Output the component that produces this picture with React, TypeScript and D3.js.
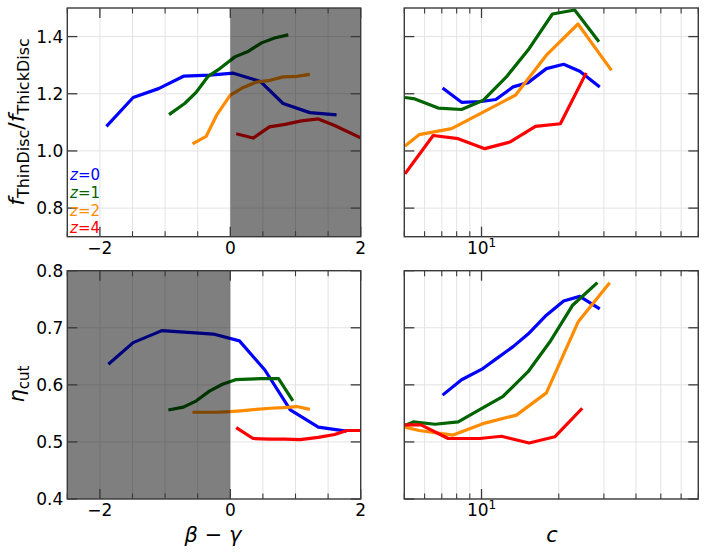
import * as d3 from "d3";

// ---- data ----
const zLabels = ["z=0", "z=1", "z=2", "z=4"];
const zColors = ["#0000ff", "#006400", "#ff8c00", "#ff0000"];

// top-left: f_thin/f_thick vs beta-gamma
const bgTop0 = [-1.9, -1.49, -1.1, -0.71, -0.32, 0.05, 0.46, 0.81, 1.22, 1.63];
const fTop0 = [1.086, 1.187, 1.218, 1.262, 1.265, 1.272, 1.243, 1.166, 1.134, 1.126];
const bgTop1 = [-0.94, -0.7, -0.52, -0.34, -0.16, 0.07, 0.28, 0.48, 0.69, 0.89];
const fTop1 = [1.127, 1.166, 1.206, 1.261, 1.288, 1.329, 1.349, 1.378, 1.396, 1.406];
const bgTop2 = [-0.58, -0.37, -0.21, 0.0, 0.2, 0.4, 0.61, 0.81, 1.02, 1.22];
const fTop2 = [1.025, 1.051, 1.125, 1.195, 1.222, 1.241, 1.247, 1.259, 1.261, 1.268];
const bgTop4 = [0.09, 0.35, 0.6, 0.84, 1.09, 1.35, 1.6, 2.1];
const fTop4 = [1.06, 1.045, 1.084, 1.093, 1.105, 1.112, 1.089, 1.035];

// top-right: f_thin/f_thick vs c
const cTop0 = [7.05, 8.36, 10.0, 11.37, 13.28, 15.19, 17.9, 20.9, 24.15, 28.9];
const fcTop0 = [1.22, 1.17, 1.173, 1.18, 1.224, 1.239, 1.288, 1.303, 1.279, 1.224];
const cTop1 = [5.03, 5.5, 6.78, 8.36, 10.15, 12.5, 15.19, 18.9, 23.08, 28.7];
const fcTop1 = [1.187, 1.182, 1.15, 1.145, 1.177, 1.259, 1.353, 1.479, 1.493, 1.382];
const cTop2 = [5.03, 5.71, 7.64, 10.15, 13.56, 17.9, 23.78, 32.1];
const fcTop2 = [1.017, 1.057, 1.078, 1.136, 1.195, 1.335, 1.444, 1.282];
const cTop4 = [5.03, 6.48, 8.11, 10.3, 12.89, 16.23, 20.3, 25.6];
const fcTop4 = [0.92, 1.054, 1.043, 1.008, 1.031, 1.086, 1.095, 1.273];

// bottom-left: eta_cut vs beta-gamma
const bgBot0 = [-1.87, -1.49, -1.05, -0.65, -0.26, 0.14, 0.53, 0.92, 1.35, 1.78];
const eBot0 = [0.636, 0.674, 0.695, 0.692, 0.689, 0.677, 0.626, 0.556, 0.526, 0.519];
const bgBot1 = [-0.95, -0.72, -0.52, -0.32, -0.12, 0.08, 0.28, 0.48, 0.74, 0.96];
const eBot1 = [0.556, 0.561, 0.572, 0.589, 0.601, 0.609, 0.61, 0.611, 0.611, 0.572];
const bgBot2 = [-0.58, -0.37, -0.21, 0.0, 0.2, 0.4, 0.61, 0.81, 1.02, 1.22];
const eBot2 = [0.552, 0.552, 0.552, 0.553, 0.555, 0.557, 0.559, 0.56, 0.562, 0.557];
const bgBot4 = [0.09, 0.35, 0.6, 0.84, 1.07, 1.35, 1.6, 1.79, 2.1];
const eBot4 = [0.525, 0.506, 0.505, 0.505, 0.504, 0.508, 0.513, 0.52, 0.52];

// bottom-right: eta_cut vs c
const cBot0 = [7.05, 8.36, 10.0, 11.37, 13.28, 15.19, 17.9, 20.9, 24.15, 28.9];
const ecBot0 = [0.582, 0.609, 0.627, 0.645, 0.667, 0.689, 0.722, 0.747, 0.755, 0.733];
const cBot1 = [5.03, 5.42, 6.58, 8.11, 10.15, 12.14, 15.19, 18.45, 22.7, 28.3];
const ecBot1 = [0.529, 0.535, 0.531, 0.535, 0.56, 0.58, 0.623, 0.675, 0.74, 0.779];
const cBot2 = [5.03, 5.71, 7.75, 10.3, 13.68, 17.9, 23.78, 31.6];
const ecBot2 = [0.526, 0.52, 0.512, 0.533, 0.547, 0.586, 0.71, 0.779];
const cBot4 = [5.03, 5.81, 7.41, 9.85, 11.96, 15.33, 19.3, 24.7];
const ecBot4 = [0.53, 0.53, 0.506, 0.506, 0.51, 0.498, 0.509, 0.559];

const bgTicks = [-2, 0, 2];
const fTicks = [0.8, 1.0, 1.2, 1.4];
const etaTicks = [0.4, 0.5, 0.6, 0.7, 0.8];

// ---- layout ----
const W = 706;
const H = 557;
const colL = [67.3, 360.7];
const colR = [404.3, 698.3];
const rowT = [8, 236.7];
const rowB = [270.7, 499];
const FONT = "DejaVu Sans, Liberation Sans, sans-serif";

type Series = { xs: number[]; ys: number[] };

function toPts(s: Series) {
  return s.xs.map((x, i) => [x, s.ys[i]] as [number, number]);
}

function Panel(props: {
  id: string;
  x: any;
  y: any;
  series: Series[];
  log?: boolean;
  shade?: [number, number];
  yLabels: boolean;
  yTicks: number[];
}) {
  const { x, y, series, log, shade, yLabels, yTicks } = props;
  const [x0, x1] = x.range();
  const [y1, y0] = y.range();
  const line = d3
    .line<[number, number]>()
    .x((d) => x(d[0]))
    .y((d) => y(d[1]));

  let majorX: number[] = [];
  let minorX: number[] = [];
  if (log) {
    majorX = [10];
    minorX = [5, 6, 7, 8, 9, 20, 30, 40, 50, 60, 70].filter(
      (v) => v >= x.domain()[0] && v <= x.domain()[1]
    );
  } else {
    majorX = bgTicks;
    minorX = d3.range(-2.5, 2.01, 0.5).filter((v) => Math.abs(v % 2) > 1e-6);
  }
  const gridX = [...majorX, ...minorX];
  const gridC = "#e3e3e3";
  const spine = "#3a3a3a";

  return (
    <g>
      <defs>
        <clipPath id={props.id}>
          <rect x={x0} y={y0} width={x1 - x0} height={y1 - y0} />
        </clipPath>
      </defs>
      <g clipPath={`url(#${props.id})`}>
        {gridX.map((v, i) => (
          <line key={"gx" + i} x1={x(v)} x2={x(v)} y1={y0} y2={y1} stroke={gridC} strokeWidth={1} />
        ))}
        {yTicks.map((v, i) => (
          <line key={"gy" + i} x1={x0} x2={x1} y1={y(v)} y2={y(v)} stroke={gridC} strokeWidth={1} />
        ))}
        {series.map((s, i) => (
          <path
            key={"s" + i}
            d={line(toPts(s)) || ""}
            fill="none"
            stroke={zColors[i]}
            strokeWidth={3.2}
            strokeLinejoin="round"
          />
        ))}
        {shade && (
          <rect
            x={x(shade[0])}
            y={y0}
            width={x(shade[1]) - x(shade[0])}
            height={y1 - y0}
            fill="#000"
            fillOpacity={0.5}
          />
        )}
      </g>
      {/* ticks, inward on all sides */}
      {majorX.map((v, i) => (
        <g key={"mx" + i}>
          <line x1={x(v)} x2={x(v)} y1={y1} y2={y1 - 10} stroke={spine} strokeWidth={1.3} />
          <line x1={x(v)} x2={x(v)} y1={y0} y2={y0 + 10} stroke={spine} strokeWidth={1.3} />
        </g>
      ))}
      {minorX.map((v, i) => (
        <g key={"nx" + i}>
          <line x1={x(v)} x2={x(v)} y1={y1} y2={y1 - 5.5} stroke={spine} strokeWidth={1.1} />
          <line x1={x(v)} x2={x(v)} y1={y0} y2={y0 + 5.5} stroke={spine} strokeWidth={1.1} />
        </g>
      ))}
      {yTicks.map((v, i) => (
        <g key={"my" + i}>
          <line x1={x0} x2={x0 + 10} y1={y(v)} y2={y(v)} stroke={spine} strokeWidth={1.3} />
          <line x1={x1} x2={x1 - 10} y1={y(v)} y2={y(v)} stroke={spine} strokeWidth={1.3} />
        </g>
      ))}
      <rect x={x0} y={y0} width={x1 - x0} height={y1 - y0} fill="none" stroke={spine} strokeWidth={1.4} />
      {/* tick labels */}
      {log
        ? majorX.map((v, i) => (
            <text key={"lx" + i} x={x(v)} y={y1 + 17} textAnchor="middle" fontSize={17} fontFamily={FONT}>
              10
              <tspan dy={-7} fontSize={12}>
                1
              </tspan>
            </text>
          ))
        : majorX.map((v, i) => (
            <text key={"lx" + i} x={x(v)} y={y1 + 17} textAnchor="middle" fontSize={17} fontFamily={FONT}>
              {v < 0 ? "\u2212" + Math.abs(v) : String(v)}
            </text>
          ))}
      {yLabels &&
        yTicks.map((v, i) => (
          <text
            key={"ly" + i}
            x={x0 - 4}
            y={y(v)}
            dy="0.36em"
            textAnchor="end"
            fontSize={17}
            fontFamily={FONT}
          >
            {v.toFixed(1)}
          </text>
        ))}
    </g>
  );
}

export default function App() {
  const xBgL = d3.scaleLinear().domain([-2.5, 2]).range(colL);
  const xCR = d3.scaleLog().domain([5, 70]).range(colR);
  const yF = d3.scaleLinear().domain([0.7, 1.5]).range([rowT[1], rowT[0]]);
  const yE = d3.scaleLinear().domain([0.4, 0.8]).range([rowB[1], rowB[0]]);

  const tl: Series[] = [
    { xs: bgTop0, ys: fTop0 },
    { xs: bgTop1, ys: fTop1 },
    { xs: bgTop2, ys: fTop2 },
    { xs: bgTop4, ys: fTop4 },
  ];
  const tr: Series[] = [
    { xs: cTop0, ys: fcTop0 },
    { xs: cTop1, ys: fcTop1 },
    { xs: cTop2, ys: fcTop2 },
    { xs: cTop4, ys: fcTop4 },
  ];
  const bl: Series[] = [
    { xs: bgBot0, ys: eBot0 },
    { xs: bgBot1, ys: eBot1 },
    { xs: bgBot2, ys: eBot2 },
    { xs: bgBot4, ys: eBot4 },
  ];
  const br: Series[] = [
    { xs: cBot0, ys: ecBot0 },
    { xs: cBot1, ys: ecBot1 },
    { xs: cBot2, ys: ecBot2 },
    { xs: cBot4, ys: ecBot4 },
  ];

  return (
    <svg
      width={W}
      height={H}
      style={{ position: "absolute", left: 0, top: 0, background: "#fff" }}
      fontFamily={FONT}
    >
      <rect width={W} height={H} fill="#fff" />
      <Panel id="cTL" x={xBgL} y={yF} series={tl} shade={[0, 2]} yLabels={true} yTicks={fTicks} />
      <Panel id="cTR" x={xCR} y={yF} series={tr} log={true} yLabels={false} yTicks={fTicks} />
      <Panel id="cBL" x={xBgL} y={yE} series={bl} shade={[-2.5, 0]} yLabels={true} yTicks={etaTicks} />
      <Panel id="cBR" x={xCR} y={yE} series={br} log={true} yLabels={false} yTicks={etaTicks} />

      {/* legend */}
      {zLabels.map((lab, i) => (
        <text key={lab} x={70} y={180 + i * 17.8} fontSize={15} fill={zColors[i]} fontFamily={FONT}>
          <tspan fontStyle="italic">z</tspan>
          {lab.slice(1)}
        </text>
      ))}

      {/* axis labels */}
      <text transform="translate(24,122) rotate(-90)" textAnchor="middle" fontSize={22} fontFamily={FONT}>
        <tspan fontStyle="italic">f</tspan>
        <tspan fontSize={16} dy={5}>ThinDisc</tspan>
        <tspan dy={-5}>/</tspan>
        <tspan fontStyle="italic">f</tspan>
        <tspan fontSize={16} dy={5}>ThickDisc</tspan>
      </text>
      <text transform="translate(24,384) rotate(-90)" textAnchor="middle" fontSize={21} fontFamily={FONT}>
        <tspan fontStyle="italic">η</tspan>
        <tspan fontSize={15} dy={5}>cut</tspan>
      </text>
      <text x={213} y={542} textAnchor="middle" fontSize={21} fontFamily={FONT}>
        <tspan fontStyle="italic">β</tspan> − <tspan fontStyle="italic">γ</tspan>
      </text>
      <text x={552} y={542} textAnchor="middle" fontSize={21} fontStyle="italic" fontFamily={FONT}>
        c
      </text>
    </svg>
  );
}
